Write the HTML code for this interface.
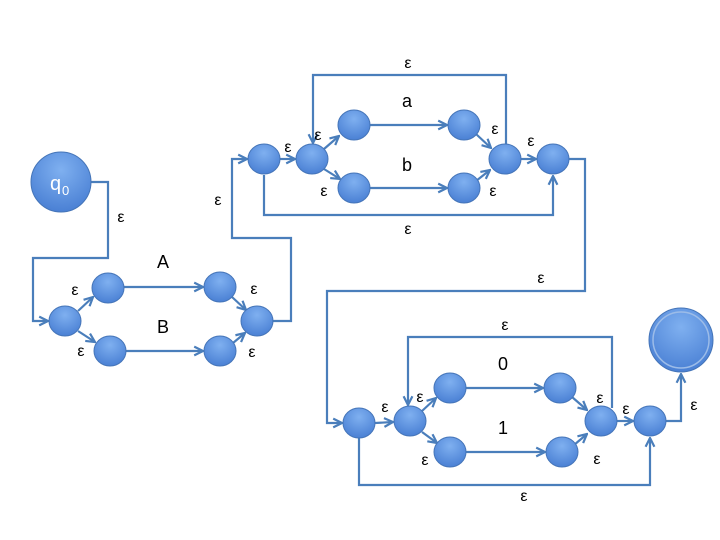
<!DOCTYPE html>
<html><head><meta charset="utf-8"><style>
html,body{margin:0;padding:0;background:#fff;}
svg{display:block;}
text{font-family:"Liberation Sans",sans-serif;fill:#000;}
</style></head><body>
<svg width="720" height="540" viewBox="0 0 720 540" xmlns="http://www.w3.org/2000/svg">
<defs>
<radialGradient id="g" cx="50%" cy="30%" r="70%">
<stop offset="0" stop-color="#7fb0f0"/><stop offset="1" stop-color="#4a80d4"/>
</radialGradient>
<marker id="a" viewBox="0 0 10 10" refX="9" refY="5" markerWidth="5" markerHeight="5" orient="auto">
<path d="M1,1 L9,5 L1,9" fill="none" stroke="#4a7ebb" stroke-width="2"/>
</marker>
</defs>
<g fill="none" stroke="#4a7ebb" stroke-width="2.2">
<!-- left -->
<polyline points="91,182 108,182 108,258 33,258 33,321 48,321" marker-end="url(#a)"/>
<line x1="78" y1="311" x2="93" y2="297" marker-end="url(#a)"/>
<line x1="78" y1="331" x2="95" y2="342" marker-end="url(#a)"/>
<line x1="124" y1="287" x2="203" y2="287" marker-end="url(#a)"/>
<line x1="126" y1="351" x2="203" y2="351" marker-end="url(#a)"/>
<line x1="232" y1="297" x2="246" y2="310" marker-end="url(#a)"/>
<line x1="233" y1="343" x2="245" y2="333" marker-end="url(#a)"/>
<polyline points="273,321 291,321 291,238 232,238 232,159 247,159" marker-end="url(#a)"/>
<!-- middle -->
<line x1="280" y1="159" x2="295" y2="159" marker-end="url(#a)"/>
<line x1="324" y1="149" x2="339" y2="136" marker-end="url(#a)"/>
<line x1="324" y1="169" x2="340" y2="179" marker-end="url(#a)"/>
<line x1="370" y1="125" x2="447" y2="125" marker-end="url(#a)"/>
<line x1="370" y1="188" x2="447" y2="188" marker-end="url(#a)"/>
<line x1="476" y1="134" x2="491" y2="148" marker-end="url(#a)"/>
<line x1="476" y1="181" x2="490" y2="170" marker-end="url(#a)"/>
<polyline points="506,144 506,75 313,75 313,143" marker-end="url(#a)"/>
<line x1="521" y1="159" x2="536" y2="159" marker-end="url(#a)"/>
<polyline points="264,175 264,215 553,215 553,176" marker-end="url(#a)"/>
<polyline points="569,159 585,159 585,291 327,291 327,423 342,423" marker-end="url(#a)"/>
<!-- bottom -->
<line x1="375" y1="423" x2="393" y2="422" marker-end="url(#a)"/>
<line x1="422" y1="411" x2="436" y2="398" marker-end="url(#a)"/>
<line x1="422" y1="432" x2="437" y2="443" marker-end="url(#a)"/>
<line x1="466" y1="388" x2="543" y2="388" marker-end="url(#a)"/>
<line x1="466" y1="452" x2="545" y2="452" marker-end="url(#a)"/>
<line x1="572" y1="397" x2="587" y2="410" marker-end="url(#a)"/>
<line x1="574" y1="445" x2="587" y2="434" marker-end="url(#a)"/>
<polyline points="612,408 612,337 408,337 408,405" marker-end="url(#a)"/>
<line x1="617" y1="421" x2="633" y2="421" marker-end="url(#a)"/>
<polyline points="359,438 359,485 650,485 650,438" marker-end="url(#a)"/>
<polyline points="666,421 681,421 681,374" marker-end="url(#a)"/>
</g>
<g fill="url(#g)" stroke="#4575b8" stroke-width="1">
<circle cx="61" cy="182" r="30"/>
<ellipse cx="65" cy="321" rx="16" ry="15"/><ellipse cx="108" cy="288" rx="16" ry="15"/>
<ellipse cx="220" cy="287" rx="16" ry="15"/><ellipse cx="257" cy="321" rx="16" ry="15"/>
<ellipse cx="110" cy="351" rx="16" ry="15"/><ellipse cx="220" cy="351" rx="16" ry="15"/>
<ellipse cx="264" cy="159" rx="16" ry="15"/><ellipse cx="312" cy="159" rx="16" ry="15"/>
<ellipse cx="354" cy="125" rx="16" ry="15"/><ellipse cx="464" cy="125" rx="16" ry="15"/>
<ellipse cx="505" cy="159" rx="16" ry="15"/><ellipse cx="354" cy="188" rx="16" ry="15"/>
<ellipse cx="464" cy="188" rx="16" ry="15"/><ellipse cx="553" cy="159" rx="16" ry="15"/>
<ellipse cx="359" cy="423" rx="16" ry="15"/><ellipse cx="410" cy="421" rx="16" ry="15"/>
<ellipse cx="450" cy="388" rx="16" ry="15"/><ellipse cx="560" cy="388" rx="16" ry="15"/>
<ellipse cx="601" cy="421" rx="16" ry="15"/><ellipse cx="450" cy="452" rx="16" ry="15"/>
<ellipse cx="562" cy="452" rx="16" ry="15"/><ellipse cx="650" cy="421" rx="16" ry="15"/>
<circle cx="681" cy="340" r="32"/>
</g>
<circle cx="681" cy="340" r="28" fill="none" stroke="#9cbce8" stroke-width="1.5"/>
<text x="50" y="190" font-size="20" style="fill:#fff">q</text><text x="62" y="195" font-size="13" style="fill:#fff">0</text>
<g font-size="16" text-anchor="middle">
<text x="121" y="222">ε</text><text x="75" y="295">ε</text><text x="81" y="356">ε</text>
<text x="254" y="294">ε</text><text x="252" y="357">ε</text><text x="218" y="205">ε</text>
<text x="288" y="152">ε</text><text x="318" y="140">ε</text><text x="324" y="196">ε</text>
<text x="495" y="134">ε</text><text x="493" y="196">ε</text><text x="531" y="146">ε</text>
<text x="408" y="68">ε</text><text x="408" y="234">ε</text><text x="541" y="283">ε</text>
<text x="385" y="412">ε</text><text x="420" y="402">ε</text><text x="425" y="465">ε</text>
<text x="600" y="403">ε</text><text x="597" y="464">ε</text><text x="626" y="414">ε</text>
<text x="505" y="330">ε</text><text x="524" y="501">ε</text><text x="694" y="410">ε</text>
</g>
<g font-size="18" text-anchor="middle">
<text x="163" y="268">A</text><text x="163" y="333">B</text>
<text x="407" y="107">a</text><text x="407" y="171">b</text>
<text x="503" y="370">0</text><text x="503" y="434">1</text>
</g>
</svg>
</body></html>
